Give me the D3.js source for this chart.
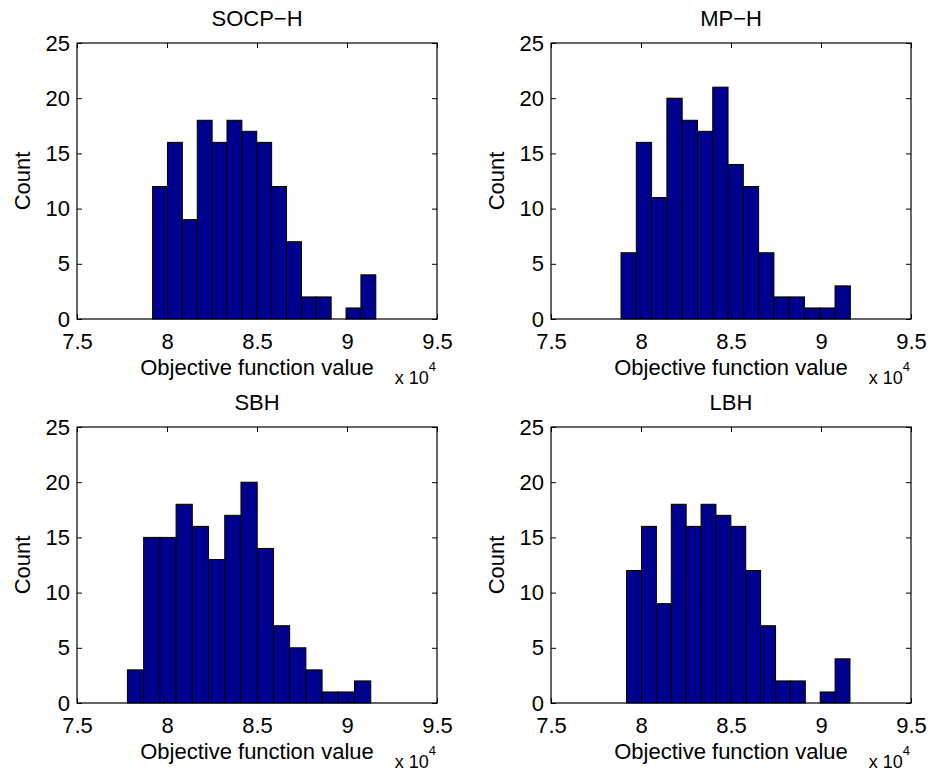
<!DOCTYPE html>
<html>
<head>
<meta charset="utf-8">
<script src="https://cdn.jsdelivr.net/npm/d3@7"></script>
<style>
  body { margin: 0; background: #fff; }
  svg text { font-family: "Liberation Sans", Arial, sans-serif; fill: #000; }
</style>
</head>
<body>
<div id="chart"></div>
<script>
// histogram counts, 15 bins per method
const titles = ["SOCP\u2212H", "MP\u2212H", "SBH", "LBH"];
const socpCounts = [12, 16, 9, 18, 16, 18, 17, 16, 12, 7, 2, 2, 0, 1, 4];
const mpCounts   = [6, 16, 11, 20, 18, 17, 21, 14, 12, 6, 2, 2, 1, 1, 3];
const sbhCounts  = [3, 15, 15, 18, 16, 13, 17, 20, 14, 7, 5, 3, 1, 1, 2];
const lbhCounts  = [12, 16, 9, 18, 16, 18, 17, 16, 12, 7, 2, 2, 0, 1, 4];
// min / max of the data (x 10^4), bins span this range evenly
const binMin = [7.92, 7.889, 7.78, 7.92];
const binMax = [9.16, 9.163, 9.132, 9.161];
const xTicks = [7.5, 8, 8.5, 9, 9.5];
const yTicks = [0, 5, 10, 15, 20, 25];

const allCounts = [socpCounts, mpCounts, sbhCounts, lbhCounts];

const W = 931, H = 774;
const plotW = 360, plotH = 276;
const lefts = [77, 551];
const tops = [43, 427];

const svg = d3.select("#chart")
    .append("svg")
    .attr("width", W)
    .attr("height", H);

const x = d3.scaleLinear().domain([7.5, 9.5]).range([0, plotW]);
const y = d3.scaleLinear().domain([0, 25]).range([plotH, 0]);

allCounts.forEach((counts, p) => {
    const g = svg.append("g")
        .attr("transform", `translate(${lefts[p % 2]},${tops[Math.floor(p / 2)]})`);

    const step = (binMax[p] - binMin[p]) / counts.length;
    const bins = counts.map((c, i) => ({
        x0: binMin[p] + i * step,
        x1: binMin[p] + (i + 1) * step,
        count: c
    }));

    g.selectAll(".bar")
        .data(bins)
        .join("rect")
        .attr("class", "bar")
        .attr("x", d => x(d.x0))
        .attr("y", d => y(d.count))
        .attr("width", d => x(d.x1) - x(d.x0))
        .attr("height", d => y(0) - y(d.count))
        .attr("fill", "#00008f")
        .attr("stroke", "#000")
        .attr("stroke-width", 1);

    // axes, ticks pointing inwards like matlab
    const xb = g.append("g")
        .attr("transform", `translate(0,${plotH})`)
        .call(d3.axisBottom(x).tickValues(xTicks).tickFormat(d3.format("")).tickSizeInner(-5).tickSizeOuter(0).tickPadding(14));
    const xt = g.append("g")
        .call(d3.axisTop(x).tickValues(xTicks).tickFormat("").tickSizeInner(-5).tickSizeOuter(0));
    const yl = g.append("g")
        .call(d3.axisLeft(y).tickValues(yTicks).tickSizeInner(-5).tickSizeOuter(0).tickPadding(7));
    const yr = g.append("g")
        .attr("transform", `translate(${plotW},0)`)
        .call(d3.axisRight(y).tickValues(yTicks).tickFormat("").tickSizeInner(-5).tickSizeOuter(0));

    [xb, xt, yl, yr].forEach(a => {
        a.select(".domain").remove();
        a.selectAll(".tick line").attr("stroke", "#000");
        a.selectAll("text").style("font-size", "22px").attr("font-family", null);
    });

    g.append("rect")
        .attr("width", plotW)
        .attr("height", plotH)
        .attr("fill", "none")
        .attr("stroke", "#000")
        .attr("stroke-width", 1.2);

    g.append("text")
        .attr("x", plotW / 2)
        .attr("y", -17)
        .attr("text-anchor", "middle")
        .style("font-size", "22px")
        .text(titles[p]);

    g.append("text")
        .attr("x", plotW / 2)
        .attr("y", plotH + 56)
        .attr("text-anchor", "middle")
        .style("font-size", "22px")
        .text("Objective function value");

    g.append("text")
        .attr("transform", `translate(-55,${plotH / 2}) rotate(-90)`)
        .attr("text-anchor", "middle")
        .attr("dy", "0.35em")
        .style("font-size", "22px")
        .text("Count");

    const mult = g.append("text")
        .attr("x", plotW - 1)
        .attr("y", plotH + 65)
        .attr("text-anchor", "end")
        .style("font-size", "18px");
    mult.append("tspan").text("x 10");
    mult.append("tspan")
        .attr("dy", -13)
        .style("font-size", "13px")
        .text("4");
});
</script>
</body>
</html>
